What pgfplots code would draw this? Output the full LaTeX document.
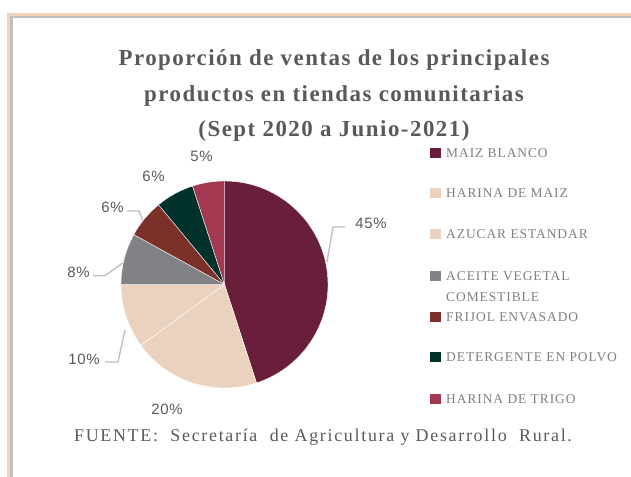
\documentclass[border=0pt]{standalone}
\usepackage{pgfplots}
\pgfplotsset{compat=1.18}
\usepackage{pgfplotstable}
\usepackage{fontspec}
\setmainfont{Liberation Serif}
\newfontfamily\sansf[LetterSpace=4]{Liberation Sans}
\newfontfamily\legfont[LetterSpace=7]{Liberation Serif}
\newfontfamily\titlefont[LetterSpace=6.5]{Liberation Serif}
\newfontfamily\srcfont[LetterSpace=9.5]{Liberation Serif}

\definecolor{maiz}{RGB}{105,31,59}
\definecolor{harina}{RGB}{235,210,190}
\definecolor{azucar}{RGB}{235,210,190}
\definecolor{aceite}{RGB}{128,130,133}
\definecolor{frijol}{RGB}{123,49,41}
\definecolor{deterg}{RGB}{0,49,43}
\definecolor{trigo}{RGB}{163,56,80}
\definecolor{txt}{RGB}{89,89,89}
\definecolor{legtxt}{RGB}{127,127,127}
\definecolor{lead}{RGB}{191,191,191}
\definecolor{framebeige}{RGB}{240,212,190}
\definecolor{framegray}{RGB}{191,191,191}

% share of sales, percent
\pgfplotstableread[col sep=comma]{
name,value,col
MAIZ BLANCO,45,maiz
HARINA DE MAIZ,20,harina
AZUCAR ESTANDAR,10,azucar
ACEITE VEGETAL,8,aceite
FRIJOL ENVASADO,6,frijol
DETERGENTE EN POLVO,6,deterg
HARINA DE TRIGO,5,trigo
}\piedata

\begin{document}
\begin{tikzpicture}
\begin{axis}[
  name=ax,
  x=1bp, y=1bp,
  xmin=0, xmax=631, ymin=0, ymax=477,
  hide axis,
  clip=false,
]
% frame (top and left edges only)
\fill[framebeige] (axis cs:7,461) rectangle (axis cs:631,464);
\fill[framebeige] (axis cs:7,0) rectangle (axis cs:10,464);
\fill[framegray] (axis cs:10,458.5) rectangle (axis cs:631,461);
\fill[framegray] (axis cs:10,0) rectangle (axis cs:12.5,461);

% pie slices, clockwise from the top
\pgfplotsextra{
  \xdef\acc{90}
  \foreach \i in {0,...,6}{
    \pgfplotstablegetelem{\i}{value}\of\piedata \let\v\pgfplotsretval
    \pgfplotstablegetelem{\i}{col}\of\piedata \let\c\pgfplotsretval
    \pgfmathsetmacro\endang{\acc-3.6*\v}
    \fill[\c, draw=white, line width=0.4pt] (axis cs:224.5,192.5) -- ++(\acc:103.5bp)
      arc[start angle=\acc, end angle=\endang, radius=103.5bp] -- cycle;
    \xdef\acc{\endang}
  }
}

% legend
\pgfplotsextra{
  \foreach \i/\yy in {0/324,1/284,2/243,3/201,4/160,5/120,6/78}{
    \pgfplotstablegetelem{\i}{name}\of\piedata \let\n\pgfplotsretval
    \pgfplotstablegetelem{\i}{col}\of\piedata \let\c\pgfplotsretval
    \fill[\c] (axis cs:430,\yy-5.2) rectangle (axis cs:440.5,\yy+5.2);
    \node[anchor=base west, inner sep=0pt, text=legtxt, font=\legfont\fontsize{13.5}{16}\selectfont]
      at (axis cs:446,\yy-4.6) {\n};
  }
}
\node[anchor=base west, inner sep=0pt, text=legtxt, font=\legfont\fontsize{13.5}{16}\selectfont]
  at (axis cs:446,175.4) {COMESTIBLE};

% leader lines
\draw[lead, line width=1.4pt] (axis cs:345,250) -- (axis cs:333,250) -- (axis cs:327,215);
\draw[lead, line width=1.4pt] (axis cs:105,115) -- (axis cs:118,115) -- (axis cs:125,147);
\draw[lead, line width=1.4pt] (axis cs:93,201.3) -- (axis cs:105,201.3) -- (axis cs:122.7,214);
\draw[lead, line width=1.4pt] (axis cs:127,266) -- (axis cs:139,266) -- (axis cs:143,256);

% percentage labels
\begin{scope}[every node/.style={text=txt, inner sep=0pt, font=\sansf\fontsize{15}{18}\selectfont}]
\node at (axis cs:371,254) {45\%};
\node at (axis cs:167,68) {20\%};
\node at (axis cs:84,118) {10\%};
\node at (axis cs:78.5,205) {8\%};
\node at (axis cs:112.5,269.5) {6\%};
\node at (axis cs:153.5,301) {6\%};
\node at (axis cs:201.5,321) {5\%};
\end{scope}

% title
\begin{scope}[every node/.style={text=txt, inner sep=0pt, anchor=base, font=\titlefont\bfseries\fontsize{23}{27}\selectfont}]
\node at (axis cs:334,411) {Proporción de ventas de los principales};
\node at (axis cs:334,375) {productos en tiendas comunitarias};
\node at (axis cs:334,340) {(Sept 2020 a Junio-2021)};
\end{scope}

% source
\node[anchor=base, inner sep=0pt, text=txt, font=\srcfont\fontsize{18}{21}\selectfont]
  at (axis cs:323,35) {FUENTE:\ \ Secretaría\ \ de Agricultura y Desarrollo\ \ Rural.};
\end{axis}
\pgfresetboundingbox
\path[use as bounding box] (ax.south west) rectangle (ax.north east);
\end{tikzpicture}
\end{document}
